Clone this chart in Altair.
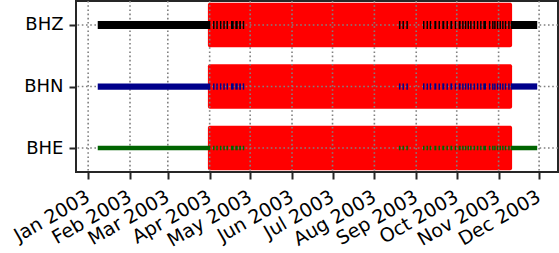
import altair as alt
import pandas as pd

# ---- data (days after 2003-01-01) ----
channels = ["BHZ", "BHN", "BHE"]
channel_pos = [2, 1, 0]
channel_colors = ["#000000", "#00008B", "#006400"]
channel_widths = [8, 4.5, 4.5]

seg_start = [7.1, 92.5, 94.9, 97.6, 100.1, 102.5, 105.8, 109.0, 111.9, 114.5,
             230.2, 232.8, 235.7, 248.0, 250.6, 253.0, 256.4, 259.5, 262.3, 265.4,
             268.3, 271.5, 274.4, 277.0, 279.0, 281.0, 282.9, 285.4, 287.9, 290.3,
             292.7, 296.8, 299.2, 300.7, 302.7, 304.7, 306.6, 308.6, 311.1, 313.0]
seg_end = [90.5, 93.6, 96.0, 98.7, 101.2, 103.6, 107.8, 110.8, 113.2, 115.6,
           231.3, 233.9, 236.8, 249.1, 251.7, 254.1, 257.9, 260.6, 263.8, 266.5,
           269.7, 272.6, 275.9, 278.1, 280.1, 282.1, 284.0, 286.5, 289.0, 291.4,
           294.7, 297.9, 300.3, 301.8, 303.8, 305.8, 307.7, 309.7, 312.2, 332.6]
gap_start = 88.7
gap_end = 314.0

month_ticks = ["2003-01-01", "2003-02-01", "2003-03-01", "2003-04-01", "2003-05-01",
               "2003-06-01", "2003-07-01", "2003-08-01", "2003-09-01", "2003-10-01",
               "2003-11-01", "2003-12-01"]
x_domain = ["2002-12-23", "2003-12-15"]

# ---- build tables ----
base_day = pd.Timestamp("2003-01-01")


def to_ms(day):
    return int((base_day + pd.Timedelta(days=day)).value // 10**6)


def date_ms(s):
    return int(pd.Timestamp(s).value // 10**6)


seg_rows = []
gap_rows = []
for ch, pos in zip(channels, channel_pos):
    for s, e in zip(seg_start, seg_end):
        seg_rows.append({"ch": ch, "pos": pos, "t0": to_ms(s), "t1": to_ms(e)})
    gap_rows.append({"ch": ch, "lo": pos - 0.36, "hi": pos + 0.36,
                     "t0": to_ms(gap_start), "t1": to_ms(gap_end)})
seg_df = pd.DataFrame(seg_rows)
gap_df = pd.DataFrame(gap_rows)
month_df = pd.DataFrame({"t": [date_ms(m) for m in month_ticks]})
chan_df = pd.DataFrame({"ch": channels, "pos": channel_pos})

xscale = alt.Scale(type="utc", domain=[date_ms(d) for d in x_domain], nice=False)
yscale = alt.Scale(domain=[-0.39, 2.39], nice=False, zero=False)

label_expr = "datum.value == 2 ? 'BHZ' : datum.value == 1 ? 'BHN' : 'BHE'"
xaxis = alt.Axis(values=[date_ms(m) for m in month_ticks],
                 labelExpr="utcFormat(datum.value, '%b %Y')",
                 labelAngle=330, labelAlign="right", labelBaseline="top",
                 labelFontSize=19, labelPadding=8, labelOffset=-5, tickSize=7, tickWidth=2,
                 tickColor="#262626", labelColor="#000000", domain=False, grid=False,
                 title=None, labelFont="DejaVu Sans", labelOverlap=False, labelFlush=False)
yaxis = alt.Axis(values=[0, 1, 2], labelExpr=label_expr, labelFontSize=18, labelPadding=6,
                 tickSize=7, tickWidth=2, tickColor="#262626", labelColor="#000000",
                 domain=False, grid=False, title=None, labelFont="DejaVu Sans")

gaps = alt.Chart(gap_df).mark_rect(color="#ff0000", cornerRadius=2).encode(
    x=alt.X("t0:T", scale=xscale, axis=xaxis),
    x2="t1:T",
    y=alt.Y("lo:Q", scale=yscale, axis=yaxis),
    y2="hi:Q",
)

vgrid = alt.Chart(month_df).mark_rule(color="#808080", strokeWidth=1.6, strokeDash=[1.6, 2.6]).encode(
    x=alt.X("t:T", scale=xscale, axis=xaxis),
)
hgrid = alt.Chart(chan_df).mark_rule(color="#808080", strokeWidth=1.6, strokeDash=[1.6, 2.6]).encode(
    y=alt.Y("pos:Q", scale=yscale, axis=yaxis),
)

segs = alt.Chart(seg_df).mark_rule(strokeCap="butt").encode(
    x=alt.X("t0:T", scale=xscale, axis=xaxis),
    x2="t1:T",
    y=alt.Y("pos:Q", scale=yscale, axis=yaxis),
    color=alt.Color("ch:N", scale=alt.Scale(domain=channels, range=channel_colors), legend=None),
    strokeWidth=alt.StrokeWidth("ch:N", scale=alt.Scale(domain=channels, range=channel_widths), legend=None),
)

chart = alt.layer(gaps, vgrid, hgrid, segs).properties(
    width=482, height=171,
    autosize=alt.AutoSizeParams(type="none"),
    padding={"left": 76, "top": 1, "right": 1, "bottom": 81},
    background="white",
).configure_view(stroke="#262626", strokeWidth=2)

chart.save("out.html", embed_options={"renderer": "svg", "actions": False})
